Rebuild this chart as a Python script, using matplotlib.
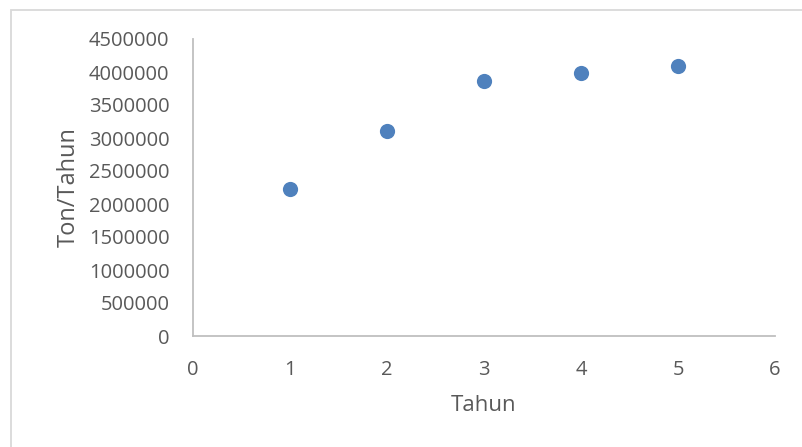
import matplotlib
matplotlib.use("Agg")
import matplotlib.pyplot as plt
from matplotlib.patches import Rectangle

# data
tahun = [1, 2, 3, 4, 5]
ton_per_tahun = [2234000, 3109000, 3869000, 3982000, 4097000]

x_ticks = [0, 1, 2, 3, 4, 5, 6]
y_ticks = [0, 500000, 1000000, 1500000, 2000000, 2500000, 3000000, 3500000, 4000000, 4500000]

plt.rcParams['font.family'] = ['Open Sans', 'DejaVu Sans']
text_col = "#595959"
axis_col = "#BFBFBF"

fig = plt.figure(figsize=(8.02, 4.47), dpi=100)
ax = fig.add_axes([193/802, 1 - 336/447, (775 - 193)/802, (336 - 39)/447])

# chart area border (Excel style), runs off the right/bottom edges
fig.patches.append(Rectangle((11/802, -0.1), 1.2, 1 - 10/447 + 0.1, transform=fig.transFigure,
                             fill=False, edgecolor="#D9D9D9", linewidth=1.3))

ax.scatter(tahun, ton_per_tahun, s=120, color="#4F81BD", zorder=3, linewidths=0)

ax.set_xlim(0, 6)
ax.set_ylim(0, 4500000)
ax.set_xticks(x_ticks)
ax.set_yticks(y_ticks)
ax.set_yticklabels([str(v) for v in y_ticks])

for s in ["top", "right"]:
    ax.spines[s].set_visible(False)
for s in ["left", "bottom"]:
    ax.spines[s].set_color(axis_col)
    ax.spines[s].set_linewidth(1.3)

ax.tick_params(axis="both", length=0, labelsize=14.5, colors=text_col)
ax.tick_params(axis="y", pad=17)
ax.tick_params(axis="x", pad=17)

ax.set_xlabel("Tahun", fontsize=16, color=text_col, labelpad=11)
ax.set_ylabel("Ton/Tahun", fontsize=17, color=text_col, labelpad=6)

fig.savefig("out.png", dpi=100)
